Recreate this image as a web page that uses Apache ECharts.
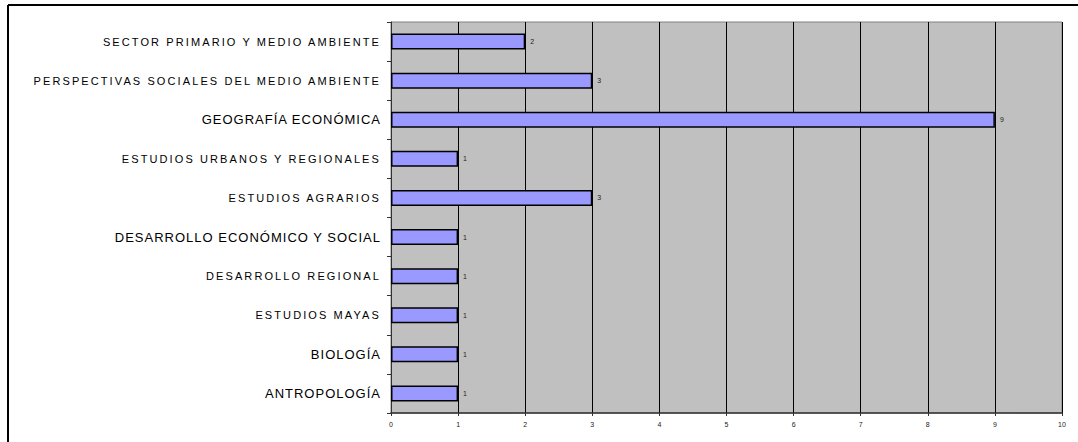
<!DOCTYPE html>
<html>
<head>
<meta charset="utf-8">
<script src="https://cdn.jsdelivr.net/npm/echarts@6/dist/echarts.min.js"></script>
<style>
html,body{margin:0;padding:0;background:#fff;}
#c{width:1078px;height:442px;}
</style>
</head>
<body>
<div id="c"></div>
<script>
// categories, bottom to top
var categories = [
  "ANTROPOLOGÍA",
  "BIOLOGÍA",
  "ESTUDIOS MAYAS",
  "DESARROLLO REGIONAL",
  "DESARROLLO ECONÓMICO Y SOCIAL",
  "ESTUDIOS AGRARIOS",
  "ESTUDIOS URBANOS Y REGIONALES",
  "GEOGRAFÍA ECONÓMICA",
  "PERSPECTIVAS SOCIALES DEL MEDIO AMBIENTE",
  "SECTOR PRIMARIO Y MEDIO AMBIENTE"
];
var values = [1, 1, 1, 1, 1, 3, 1, 9, 3, 2];
var spacedLabels = [
  "ESTUDIOS MAYAS",
  "DESARROLLO REGIONAL",
  "ESTUDIOS AGRARIOS",
  "ESTUDIOS URBANOS Y REGIONALES",
  "PERSPECTIVAS SOCIALES DEL MEDIO AMBIENTE",
  "SECTOR PRIMARIO Y MEDIO AMBIENTE"
];
var xMin = 0, xMax = 10, xStep = 1;

var chart = echarts.init(document.getElementById('c'), null, {renderer: 'svg'});
var option = {
  animation: false,
  backgroundColor: '#ffffff',
  graphic: [
    {type: 'line', shape: {x1: 8, y1: 5, x2: 1078, y2: 5}, style: {stroke: '#000', lineWidth: 2}},
    {type: 'line', shape: {x1: 8, y1: 5, x2: 8, y2: 442}, style: {stroke: '#000', lineWidth: 2}}
  ],
  grid: {
    left: 391, right: 16, top: 22, bottom: 29,
    show: true, backgroundColor: '#c0c0c0', borderColor: '#808080', borderWidth: 1
  },
  xAxis: {
    type: 'value', min: xMin, max: xMax, interval: xStep,
    axisLine: {show: true, lineStyle: {color: '#333', width: 1.5}},
    axisTick: {show: true, length: 3, lineStyle: {color: '#333'}},
    axisLabel: {fontFamily: 'Liberation Sans', fontSize: 7, color: '#222', margin: 8},
    splitLine: {show: true, lineStyle: {color: '#000', width: 1}}
  },
  yAxis: {
    type: 'category', data: categories,
    axisLine: {show: true, lineStyle: {color: '#333', width: 1}},
    axisTick: {show: true, length: 4, lineStyle: {color: '#333'}},
    axisLabel: {
      margin: 10,
      color: '#000',
      fontFamily: 'Liberation Sans',
      formatter: function (v) {
        return spacedLabels.indexOf(v) >= 0 ? '{s|' + v + '}' : '{n|' + v + '}';
      },
      rich: {
        s: {fontSize: 11, fontFamily: 'Liberation Sans', color: '#000'},
        n: {fontSize: 13, fontFamily: 'Liberation Sans', color: '#000'}
      }
    },
    splitLine: {show: false}
  },
  series: [{
    type: 'bar',
    data: values,
    barWidth: 16,
    itemStyle: {color: '#9999ff', borderColor: '#000', borderWidth: 1.5},
    label: {
      show: true, position: 'right', distance: 5,
      fontFamily: 'Liberation Sans', fontSize: 7, color: '#222'
    }
  }]
};
chart.setOption(option);

function applySpacing() {
  var texts = document.querySelectorAll('#c svg text');
  texts.forEach(function (t) {
    var s = t.textContent;
    if (spacedLabels.indexOf(s) >= 0) {
      t.style.letterSpacing = '2.1px';
    } else if (categories.indexOf(s) >= 0) {
      t.style.letterSpacing = '1px';
    }
  });
}
chart.on('finished', applySpacing);
applySpacing();
</script>
</body>
</html>
